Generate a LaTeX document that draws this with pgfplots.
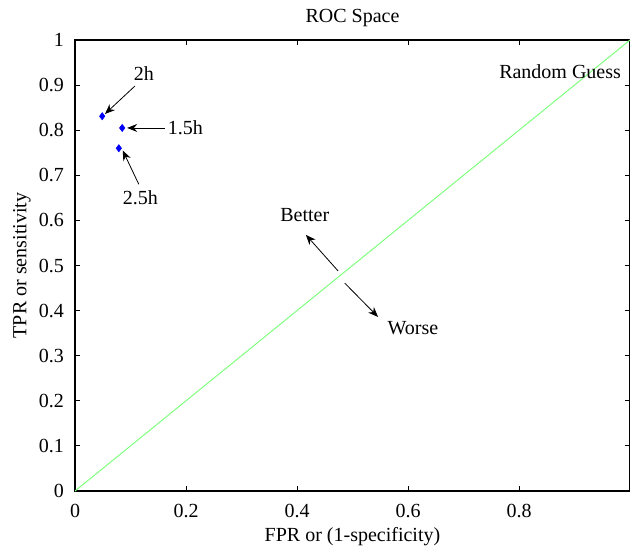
\documentclass[border=0pt]{standalone}
\usepackage{fontspec}
\setmainfont{Liberation Serif}
\usepackage{pgfplots}
\pgfplotsset{compat=1.18}
\usetikzlibrary{arrows.meta,calc}
\definecolor{rocgreen}{RGB}{128,255,128}
\begin{document}
\begin{tikzpicture}
\begin{axis}[
  scale only axis,
  width=277.5pt, height=225.5pt,
  xmin=0, xmax=1, ymin=0, ymax=1,
  xtick={0,0.2,0.4,0.6,0.8},
  xticklabels={0,0.2,0.4,0.6,0.8},
  ytick={0,0.1,0.2,0.3,0.4,0.5,0.6,0.7,0.8,0.9,1},
  yticklabels={0,0.1,0.2,0.3,0.4,0.5,0.6,0.7,0.8,0.9,1},
  tick align=inside,
  major tick length=2.5pt,
  tick style={black, line width=0.5pt},
  axis line style={black, line width=0.6pt},
  /pgf/number format/assume math mode=true,
  ticklabel style={font=\normalsize},
  xticklabel style={yshift=-3pt},
  yticklabel style={xshift=-2pt},
  clip=false,
]
\addplot[rocgreen, line width=0.5pt] coordinates {(0,0) (1,1)};
\addplot[only marks, mark=diamond*, mark size=1.7pt, blue, mark options={fill=blue}] coordinates {
(0.049,0.831)
(0.085,0.805)
(0.079,0.760)
};
\coordinate (sw) at (rel axis cs:0,0);
\coordinate (ne) at (rel axis cs:1,1);
\node at ([yshift=11pt]rel axis cs:0.5,1) {ROC Space};
\node at ([yshift=-23pt]rel axis cs:0.5,0) {FPR or (1-specificity)};
\node[rotate=90] at ([xshift=-26.5pt]rel axis cs:0,0.5) {TPR or sensitivity};
% annotations
\draw[-{Stealth[length=5pt,width=4pt]}, black, line width=0.4pt] (axis cs:0.108,0.898) -- (axis cs:0.054,0.836);
\node[anchor=center] at (axis cs:0.124,0.925) {2h};
\draw[-{Stealth[length=5pt,width=4pt]}, black, line width=0.4pt] (axis cs:0.162,0.805) -- (axis cs:0.094,0.805);
\node[anchor=west, inner sep=1pt] at (axis cs:0.163,0.805) {1.5h};
\draw[-{Stealth[length=5pt,width=4pt]}, black, line width=0.4pt] (axis cs:0.115,0.680) -- (axis cs:0.086,0.755);
\node[anchor=center] at (axis cs:0.118,0.650) {2.5h};
\draw[-{Stealth[length=5pt,width=4pt]}, black, line width=0.4pt] (axis cs:0.474,0.488) -- (axis cs:0.416,0.568);
\node[anchor=center] at (axis cs:0.414,0.612) {Better};
\draw[-{Stealth[length=5pt,width=4pt]}, black, line width=0.4pt] (axis cs:0.486,0.461) -- (axis cs:0.546,0.386);
\node[anchor=center] at (axis cs:0.609,0.361) {Worse};
\node[anchor=center] at (axis cs:0.874,0.929) {Random Guess};
\end{axis}
\pgfresetboundingbox
\useasboundingbox ($(sw)+(-37.5pt,-28.5pt)$) rectangle ($(ne)+(0,20pt)$);
\end{tikzpicture}
\end{document}
